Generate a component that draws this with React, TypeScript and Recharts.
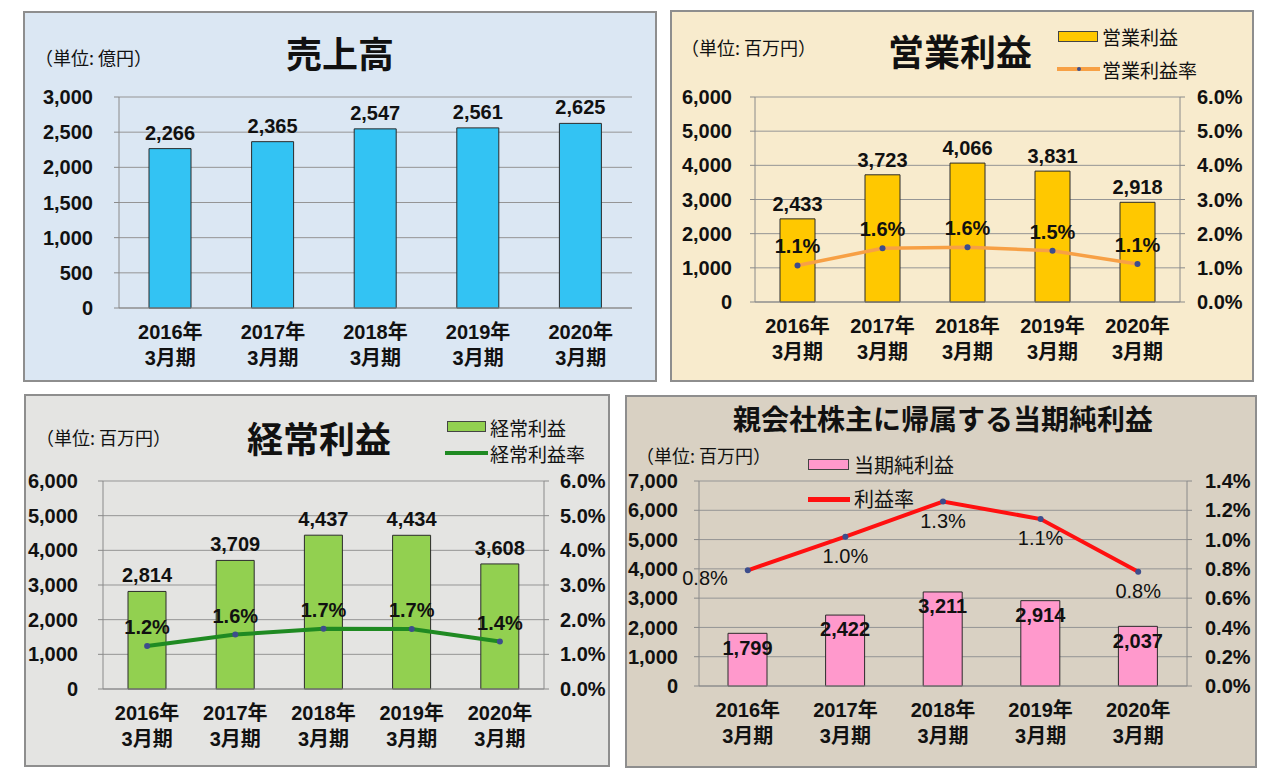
import React from 'react'
import {
  ComposedChart,
  Bar,
  Line,
  XAxis,
  YAxis,
  CartesianGrid,
  LabelList,
} from 'recharts'

// 決算期
const periods = ['2016年', '2017年', '2018年', '2019年', '2020年']
const periodSuffix = '3月期'

// 売上高（億円）
const salesValues = [2266, 2365, 2547, 2561, 2625]
// 営業利益（百万円）と営業利益率（%）
const operatingValues = [2433, 3723, 4066, 3831, 2918]
const operatingRates = [1.07, 1.57, 1.6, 1.5, 1.11]
// 経常利益（百万円）と経常利益率（%）
const ordinaryValues = [2814, 3709, 4437, 4434, 3608]
const ordinaryRates = [1.24, 1.57, 1.74, 1.73, 1.37]
// 親会社株主に帰属する当期純利益（百万円）と利益率（%）
const netValues = [1799, 2422, 3211, 2914, 2037]
const netRates = [0.79, 1.02, 1.26, 1.14, 0.78]

const salesTicks = [0, 500, 1000, 1500, 2000, 2500, 3000]
const profitTicks = [0, 1000, 2000, 3000, 4000, 5000, 6000]
const netTicks = [0, 1000, 2000, 3000, 4000, 5000, 6000, 7000]
const rateTicks = [0, 1, 2, 3, 4, 5, 6]
const netRateTicks = [0, 0.2, 0.4, 0.6, 0.8, 1.0, 1.2, 1.4]

const salesData = periods.map((period, i) => ({ period, value: salesValues[i] }))
const operatingData = periods.map((period, i) => ({
  period,
  value: operatingValues[i],
  rate: operatingRates[i],
}))
const ordinaryData = periods.map((period, i) => ({
  period,
  value: ordinaryValues[i],
  rate: ordinaryRates[i],
}))
const netData = periods.map((period, i) => ({
  period,
  value: netValues[i],
  rate: netRates[i],
}))

const FONT = '"Liberation Sans", Arial, "Noto Sans CJK JP", sans-serif'
const JP_FONT = '"Noto Sans CJK JP", "Liberation Sans", sans-serif'
const AXIS = '#8a8a8a'
const GRID = '#959595'
const TEXT = '#111'
const DOT = '#3d4d8c'

const fmtNum = (v: number) => Number(v).toLocaleString('en-US')
const fmtPct = (v: number) => `${Number(v).toFixed(1)}%`

const tickStyle = { fontSize: 20, fontWeight: 'bold', fill: TEXT, fontFamily: FONT }

const PeriodTick = ({ x, y, payload }: any) => (
  <g transform={`translate(${x},${y})`}>
    <text textAnchor="middle" fontSize={20} fontWeight="bold" fill={TEXT} fontFamily={FONT}>
      <tspan x={0} dy={31}>
        {payload.value}
      </tspan>
      <tspan x={0} dy={26}>
        {periodSuffix}
      </tspan>
    </text>
  </g>
)

const NetRateLabel = (props: any) => {
  const { x, y, value, index } = props
  const first = index === 0
  return (
    <text
      x={first ? x - 20 : x}
      y={first ? y + 8 : y + 19}
      textAnchor={first ? 'end' : 'middle'}
      dominantBaseline="central"
      fontSize={20}
      fill={TEXT}
      fontFamily={FONT}
    >
      {fmtPct(value)}
    </text>
  )
}

function Frame({ left, top, width, height, bg }: any) {
  return (
    <div
      style={{
        position: 'absolute',
        left,
        top,
        width,
        height,
        background: bg,
        border: '2px solid #8e8e8e',
        boxSizing: 'border-box',
      }}
    />
  )
}

function Title({ x, y, size, children }: any) {
  return (
    <div
      style={{
        position: 'absolute',
        left: x,
        top: y,
        transform: 'translate(-50%, -50%)',
        fontFamily: JP_FONT,
        fontWeight: 'bold',
        fontSize: size,
        lineHeight: 1,
        whiteSpace: 'nowrap',
        color: TEXT,
      }}
    >
      {children}
    </div>
  )
}

function Note({ x, y, size = 18, children }: any) {
  return (
    <div
      style={{
        position: 'absolute',
        left: x,
        top: y,
        transform: 'translateY(-50%)',
        fontFamily: JP_FONT,
        fontSize: size,
        lineHeight: 1,
        whiteSpace: 'nowrap',
        color: TEXT,
      }}
    >
      {children}
    </div>
  )
}

function LegendBox({ x, y, w, h, fill }: any) {
  return (
    <div
      style={{
        position: 'absolute',
        left: x,
        top: y,
        width: w,
        height: h,
        background: fill,
        border: '1.5px solid #444',
        boxSizing: 'border-box',
      }}
    />
  )
}

function LegendLine({ x, y, w, color, thick, dot }: any) {
  return (
    <div style={{ position: 'absolute', left: x, top: y - thick / 2, width: w, height: thick, background: color }}>
      {dot && (
        <div
          style={{
            position: 'absolute',
            left: w / 2 - 2,
            top: thick / 2 - 2,
            width: 4,
            height: 4,
            borderRadius: 2,
            background: DOT,
          }}
        />
      )}
    </div>
  )
}

export default function App() {
  return (
    <div
      style={{
        position: 'absolute',
        left: 0,
        top: 0,
        width: 1280,
        height: 781,
        background: '#fff',
        overflow: 'hidden',
      }}
    >
      {/* 売上高 */}
      <Frame left={23} top={11} width={634} height={371} bg="#dbe7f3" />
      <ComposedChart
        width={634}
        height={371}
        data={salesData}
        margin={{ top: 86, right: 25, bottom: 14, left: 26 }}
        style={{ position: 'absolute', left: 23, top: 11 }}
      >
        <CartesianGrid vertical={false} stroke={GRID} />
        <XAxis
          dataKey="period"
          tick={<PeriodTick />}
          tickLine={false}
          tickSize={0}
          tickMargin={0}
          interval={0}
          height={60}
          axisLine={{ stroke: AXIS }}
        />
        <YAxis
          domain={[0, 3000]}
          ticks={salesTicks}
          width={70}
          tickFormatter={fmtNum}
          tick={tickStyle}
          tickSize={5}
          tickMargin={21}
          tickLine={{ stroke: AXIS }}
          axisLine={{ stroke: AXIS }}
        />
        <Bar dataKey="value" fill="#33c3f3" stroke="#2b2b2b" strokeWidth={1} barSize={42} isAnimationActive={false}>
          <LabelList dataKey="value" position="top" offset={9} formatter={fmtNum} {...tickStyle} />
        </Bar>
      </ComposedChart>
      <Title x={340} y={52} size={36}>売上高</Title>
      <Note x={35} y={57}>（単位: 億円）</Note>

      {/* 営業利益 */}
      <Frame left={670} top={10} width={584} height={372} bg="#f8ebcd" />
      <ComposedChart
        width={584}
        height={372}
        data={operatingData}
        margin={{ top: 87, right: 9, bottom: 20, left: 15 }}
        style={{ position: 'absolute', left: 670, top: 10 }}
      >
        <CartesianGrid vertical={false} stroke={GRID} yAxisId="left" />
        <XAxis
          dataKey="period"
          tick={<PeriodTick />}
          tickLine={false}
          tickSize={0}
          tickMargin={0}
          interval={0}
          height={60}
          axisLine={{ stroke: AXIS }}
        />
        <YAxis
          yAxisId="left"
          domain={[0, 6000]}
          ticks={profitTicks}
          width={70}
          tickFormatter={fmtNum}
          tick={tickStyle}
          tickSize={5}
          tickMargin={18}
          tickLine={{ stroke: AXIS }}
          axisLine={{ stroke: AXIS }}
        />
        <YAxis
          yAxisId="right"
          orientation="right"
          domain={[0, 6]}
          ticks={rateTicks}
          width={65}
          tickFormatter={fmtPct}
          tick={tickStyle}
          tickSize={5}
          tickMargin={12}
          tickLine={{ stroke: AXIS }}
          axisLine={{ stroke: AXIS }}
        />
        <Bar yAxisId="left" dataKey="value" fill="#ffc800" stroke="#2b2b2b" strokeWidth={1} barSize={35} isAnimationActive={false}>
          <LabelList dataKey="value" position="top" offset={8} formatter={fmtNum} {...tickStyle} />
        </Bar>
        <Line
          yAxisId="right"
          dataKey="rate"
          stroke="#f7a045"
          strokeWidth={3.5}
          dot={{ r: 3, fill: DOT, stroke: 'none' }}
          isAnimationActive={false}
        >
          <LabelList dataKey="rate" position="top" offset={12} formatter={fmtPct} {...tickStyle} />
        </Line>
      </ComposedChart>
      <Title x={960} y={50} size={36}>営業利益</Title>
      <Note x={681} y={47}>（単位: 百万円）</Note>
      <LegendBox x={1058} y={31} w={40} h={11} fill="#ffc800" />
      <Note x={1102} y={36} size={19}>営業利益</Note>
      <LegendLine x={1057} y={69} w={43} color="#f7a045" thick={4} dot />
      <Note x={1102} y={69} size={19}>営業利益率</Note>

      {/* 経常利益 */}
      <Frame left={24} top={394} width={586} height={373} bg="#e4e4e2" />
      <ComposedChart
        width={586}
        height={373}
        data={ordinaryData}
        margin={{ top: 87, right: 6, bottom: 18, left: 9 }}
        style={{ position: 'absolute', left: 24, top: 394 }}
      >
        <CartesianGrid vertical={false} stroke={GRID} yAxisId="left" />
        <XAxis
          dataKey="period"
          tick={<PeriodTick />}
          tickLine={false}
          tickSize={0}
          tickMargin={0}
          interval={0}
          height={60}
          axisLine={{ stroke: AXIS }}
        />
        <YAxis
          yAxisId="left"
          domain={[0, 6000]}
          ticks={profitTicks}
          width={70}
          tickFormatter={fmtNum}
          tick={tickStyle}
          tickSize={5}
          tickMargin={20}
          tickLine={{ stroke: AXIS }}
          axisLine={{ stroke: AXIS }}
        />
        <YAxis
          yAxisId="right"
          orientation="right"
          domain={[0, 6]}
          ticks={rateTicks}
          width={60}
          tickFormatter={fmtPct}
          tick={tickStyle}
          tickSize={5}
          tickMargin={11}
          tickLine={{ stroke: AXIS }}
          axisLine={{ stroke: AXIS }}
        />
        <Bar yAxisId="left" dataKey="value" fill="#92d050" stroke="#2b2b2b" strokeWidth={1} barSize={38} isAnimationActive={false}>
          <LabelList dataKey="value" position="top" offset={9} formatter={fmtNum} {...tickStyle} />
        </Bar>
        <Line
          yAxisId="right"
          dataKey="rate"
          stroke="#1f8a22"
          strokeWidth={4}
          dot={{ r: 3, fill: DOT, stroke: 'none' }}
          isAnimationActive={false}
        >
          <LabelList dataKey="rate" position="top" offset={12} formatter={fmtPct} {...tickStyle} />
        </Line>
      </ComposedChart>
      <Title x={319} y={437} size={36}>経常利益</Title>
      <Note x={36} y={437}>（単位: 百万円）</Note>
      <LegendBox x={447} y={421} w={39} h={11} fill="#92d050" />
      <Note x={490} y={427} size={19}>経常利益</Note>
      <LegendLine x={445} y={453} w={43} color="#1f8a22" thick={4} />
      <Note x={490} y={453} size={19}>経常利益率</Note>

      {/* 親会社株主に帰属する当期純利益 */}
      <Frame left={625} top={395} width={632} height={373} bg="#d9d1c3" />
      <ComposedChart
        width={632}
        height={373}
        data={netData}
        margin={{ top: 86, right: 5, bottom: 22, left: 4 }}
        style={{ position: 'absolute', left: 625, top: 395 }}
      >
        <CartesianGrid vertical={false} stroke={GRID} yAxisId="left" />
        <XAxis
          dataKey="period"
          tick={<PeriodTick />}
          tickLine={false}
          tickSize={0}
          tickMargin={0}
          interval={0}
          height={60}
          axisLine={{ stroke: AXIS }}
        />
        <YAxis
          yAxisId="left"
          domain={[0, 7000]}
          ticks={netTicks}
          width={70}
          tickFormatter={fmtNum}
          tick={tickStyle}
          tickSize={5}
          tickMargin={16}
          tickLine={{ stroke: AXIS }}
          axisLine={{ stroke: AXIS }}
        />
        <YAxis
          yAxisId="right"
          orientation="right"
          domain={[0, 1.4]}
          ticks={netRateTicks}
          width={65}
          tickFormatter={fmtPct}
          tick={tickStyle}
          tickSize={5}
          tickMargin={13}
          tickLine={{ stroke: AXIS }}
          axisLine={{ stroke: AXIS }}
        />
        <Bar yAxisId="left" dataKey="value" fill="#ff99cc" stroke="#2b2b2b" strokeWidth={1} barSize={39} isAnimationActive={false}>
          <LabelList dataKey="value" position="insideTop" offset={7} formatter={fmtNum} {...tickStyle} />
        </Bar>
        <Line
          yAxisId="right"
          dataKey="rate"
          stroke="#ff1010"
          strokeWidth={4}
          dot={{ r: 3, fill: DOT, stroke: 'none' }}
          isAnimationActive={false}
        >
          <LabelList dataKey="rate" content={<NetRateLabel />} />
        </Line>
      </ComposedChart>
      <Title x={943} y={418} size={28}>親会社株主に帰属する当期純利益</Title>
      <Note x={636} y={455}>（単位: 百万円）</Note>
      <LegendBox x={808} y={459} w={41} h={11} fill="#ff99cc" />
      <Note x={854} y={465} size={20}>当期純利益</Note>
      <LegendLine x={808} y={499} w={42} color="#ff1010" thick={5} />
      <Note x={854} y={499} size={20}>利益率</Note>
    </div>
  )
}
